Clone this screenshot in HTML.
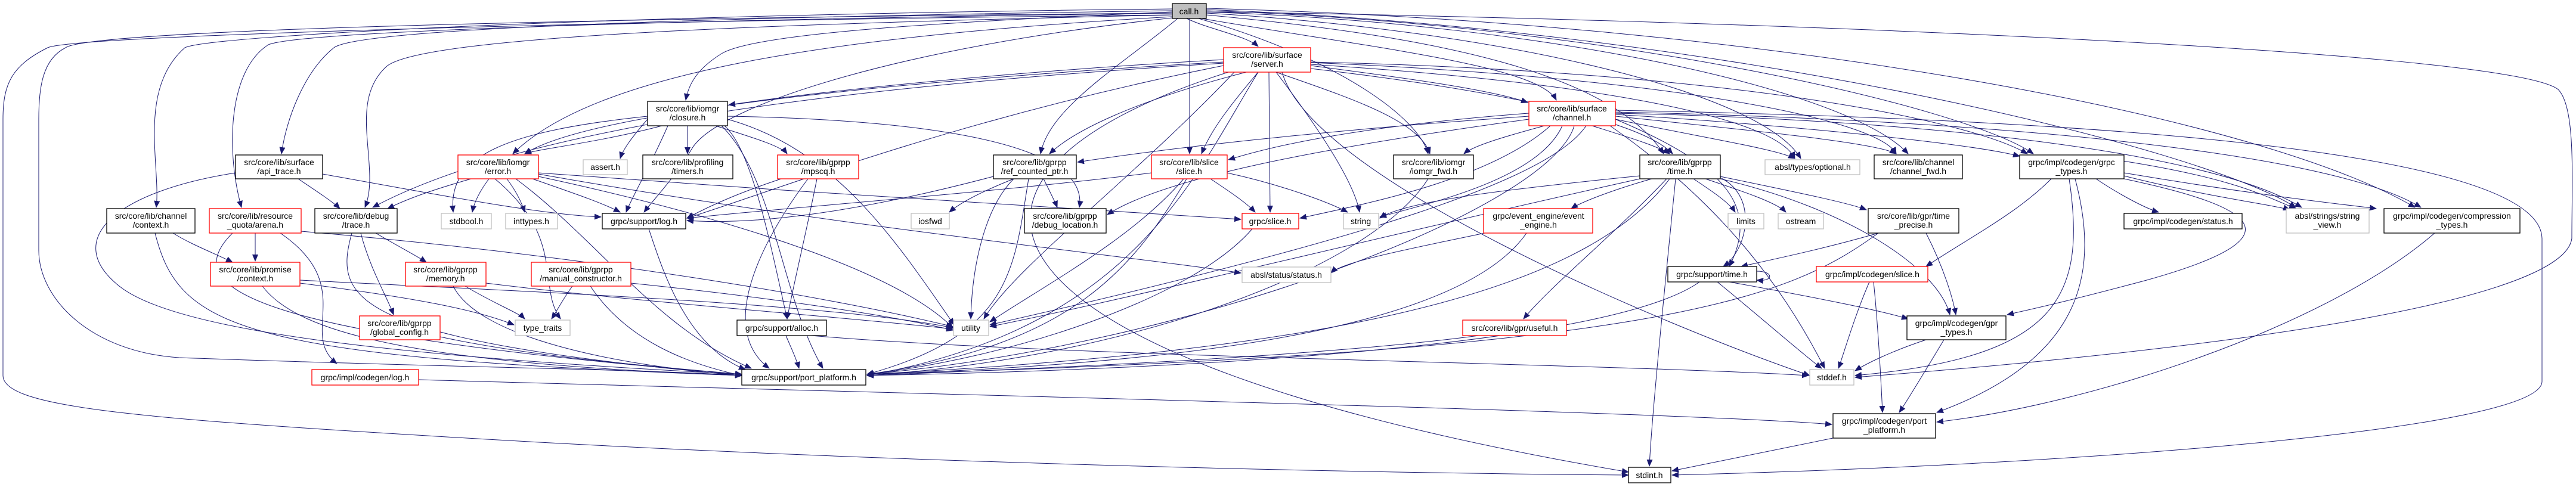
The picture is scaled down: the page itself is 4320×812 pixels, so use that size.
<!DOCTYPE html>
<html><head><meta charset="utf-8"><style>
html,body{margin:0;padding:0;background:#fff;}
svg{display:block;}
text{font-family:"Liberation Sans",sans-serif;font-size:14px;text-anchor:middle;fill:#000;}
.e path{fill:none;stroke:#191970;stroke-width:1;}
.n rect{fill:#fff;stroke-width:1.3;}
.k{stroke:#000;} .r{stroke:#ff0000;} .g{stroke:#bfbfbf;}
</style></head><body>
<svg width="4320" height="812" viewBox="0 0 4320 812" xmlns="http://www.w3.org/2000/svg">
<defs><marker id="a" markerWidth="12" markerHeight="10" refX="11" refY="5" orient="auto" markerUnits="userSpaceOnUse"><path d="M0,0 L12,5 L0,10 z" fill="#191970"/></marker></defs>
<g class="e" marker-end="url(#a)">
<path d="M1990 31 C2030 50 2090 60 2110 78"/>
<path d="M1995 31 L1995 258"/>
<path d="M1975 31 C1880 110 1760 180 1745 258"/>
<path d="M1966 20 C1500 40 1260 60 1210 90 C1170 115 1155 140 1150 168"/>
<path d="M1966 18 C1100 30 600 50 560 80 C510 120 480 200 472 258"/>
<path d="M1966 15 C1000 25 350 60 310 80 C230 150 270 280 262 348"/>
<path d="M1966 22 C1000 35 500 55 450 75 C380 120 380 260 405 348"/>
<path d="M1966 25 C1300 40 720 60 650 110 C580 170 640 280 612 348"/>
<path d="M1966 28 C1400 60 1000 120 860 258"/>
<path d="M1966 30 C1500 80 1200 180 1160 250 C1130 300 1100 330 1080 356"/>
<path d="M2010 31 C2250 100 2380 200 2395 258"/>
<path d="M2023 25 C2400 60 2700 120 2790 258"/>
<path d="M2015 31 C2300 80 2580 110 2610 168"/>
<path d="M2023 22 C2500 50 2950 150 3020 266"/>
<path d="M2023 20 C2600 40 3100 150 3200 258"/>
<path d="M2023 18 C2700 40 3300 180 3410 258"/>
<path d="M2023 16 C2900 50 3700 250 3850 348"/>
<path d="M2023 14 C3000 40 3800 200 4050 348"/>
<path d="M1966 22 C1000 30 150 50 110 80 C70 100 65 150 65 200 L65 420 C65 500 150 590 300 600 C700 615 1100 620 1244 630"/>
<path d="M1966 25 C1000 35 120 60 80 80 C20 110 5 140 5 200 L5 630 C5 680 200 700 700 730 C1500 780 2400 795 2731 797"/>
<path d="M2023 20 C2800 30 4200 80 4290 150 C4320 180 4313 300 4313 400 C4300 500 3800 580 3111 633"/>
<path d="M2198 110 C2350 130 2500 150 2562 172"/>
<path d="M2052 100 C1700 120 1400 150 1222 176"/>
<path d="M2052 104 C1600 130 1000 180 880 258"/>
<path d="M2052 106 C1500 140 900 200 625 348"/>
<path d="M2140 121 C2250 160 2380 200 2398 258"/>
<path d="M2198 115 C2500 150 2750 200 2805 258"/>
<path d="M2198 108 C2700 140 2980 200 3010 266"/>
<path d="M2198 105 C2800 130 3150 200 3180 258"/>
<path d="M2198 104 C2900 120 3300 200 3400 258"/>
<path d="M2110 121 C2060 180 2030 220 2015 258"/>
<path d="M2090 121 C1900 170 1800 220 1760 258"/>
<path d="M2128 121 L2130 356"/>
<path d="M2140 121 C2200 200 2270 300 2280 356"/>
<path d="M2070 121 C1900 300 1700 450 1650 535"/>
<path d="M2110 121 C2000 300 1900 550 1454 630"/>
<path d="M2150 121 C2200 300 2800 550 3035 630"/>
<path d="M2052 110 C1600 200 1300 320 1152 366"/>
<path d="M2060 121 C1500 300 1600 600 2731 792"/>
<path d="M2670 211 C2730 230 2780 245 2800 258"/>
<path d="M2590 211 C2520 230 2470 245 2455 258"/>
<path d="M2564 190 C2300 210 2150 240 2060 268"/>
<path d="M2564 195 C2200 220 1950 250 1807 272"/>
<path d="M2600 211 C2500 300 2300 340 2180 366"/>
<path d="M2620 211 C2580 300 2400 340 2314 364"/>
<path d="M2709 200 C2850 230 2980 250 3010 266"/>
<path d="M2709 195 C2950 220 3150 240 3180 258"/>
<path d="M2709 192 C3000 210 3300 240 3387 262"/>
<path d="M2709 190 C3200 200 3700 250 3860 348"/>
<path d="M2709 188 C3300 200 3900 250 4060 348"/>
<path d="M2709 185 C3500 200 4260 250 4263 400 L4263 640 C4263 720 3500 780 2804 797"/>
<path d="M2640 211 C2600 350 2000 580 1454 628"/>
<path d="M2660 211 C2600 300 2300 400 1660 545"/>
<path d="M2709 200 C2900 280 2950 350 2900 447"/>
<path d="M2700 211 C2900 350 3000 500 3060 618"/>
<path d="M2564 200 C2200 250 1950 300 1857 360"/>
<path d="M1153 211 L1153 258"/>
<path d="M1200 211 C1260 230 1310 245 1320 258"/>
<path d="M1110 211 C1000 240 900 250 880 258"/>
<path d="M1086 200 C1060 230 1045 250 1040 266"/>
<path d="M1086 195 C850 220 750 260 760 356"/>
<path d="M1120 211 C1090 280 1060 330 1050 356"/>
<path d="M1210 211 C1300 300 1310 500 1380 618"/>
<path d="M1215 211 C1260 250 1290 400 1320 535"/>
<path d="M1220 195 C1500 200 1830 230 1810 348"/>
<path d="M1220 200 C1400 250 1500 400 1600 545"/>
<path d="M790 300 C720 320 680 335 650 350"/>
<path d="M820 300 C805 320 795 340 792 356"/>
<path d="M850 300 C865 320 875 340 880 356"/>
<path d="M893 300 C950 320 1010 340 1040 356"/>
<path d="M865 300 C1000 400 1100 550 1260 618"/>
<path d="M903 296 C1200 360 1500 450 1598 550"/>
<path d="M903 292 C1400 380 1900 430 2081 458"/>
<path d="M903 290 C1300 320 1800 350 2081 368"/>
<path d="M830 300 C950 400 900 480 940 535"/>
<path d="M500 300 C530 320 560 340 570 350"/>
<path d="M541 292 C700 320 900 360 1008 364"/>
<path d="M395 290 C200 320 100 400 200 480 C300 560 700 600 1244 628"/>
<path d="M290 391 C320 410 360 425 390 440"/>
<path d="M260 391 C300 550 400 600 1244 630"/>
<path d="M428 391 L428 438"/>
<path d="M390 391 C300 480 400 560 1244 628"/>
<path d="M505 388 C1000 430 1400 500 1598 548"/>
<path d="M470 391 C600 480 500 560 565 610"/>
<path d="M630 391 C680 420 700 430 715 440"/>
<path d="M605 391 C620 450 650 500 660 528"/>
<path d="M590 391 C560 500 580 570 1244 630"/>
<path d="M503 475 C700 500 800 520 862 545"/>
<path d="M440 480 C500 560 700 610 1244 630"/>
<path d="M503 470 C900 490 1400 510 1598 550"/>
<path d="M780 480 C830 510 870 525 880 535"/>
<path d="M760 480 C800 560 1000 610 1244 630"/>
<path d="M815 475 C1100 510 1400 530 1598 552"/>
<path d="M960 480 C945 500 935 520 925 535"/>
<path d="M990 480 C1050 570 1150 610 1244 630"/>
<path d="M1058 475 C1300 500 1500 530 1598 554"/>
<path d="M738 565 C900 600 1100 615 1244 628"/>
<path d="M702 637 C1500 660 2800 690 3072 712"/>
<path d="M1310 300 C1250 320 1200 340 1152 366"/>
<path d="M1355 300 C1280 400 1200 550 1290 618"/>
<path d="M1370 300 C1350 400 1330 480 1320 535"/>
<path d="M1318 563 C1325 580 1335 600 1340 618"/>
<path d="M1360 563 C1800 600 2700 610 3033 630"/>
<path d="M1700 300 C1650 320 1610 340 1592 356"/>
<path d="M1750 300 C1760 320 1770 340 1773 348"/>
<path d="M1700 300 C1650 350 1630 450 1628 535"/>
<path d="M1725 300 C1700 450 1700 560 1454 628"/>
<path d="M1666 296 C1500 340 1300 380 1152 370"/>
<path d="M2030 300 C2060 320 2090 340 2105 356"/>
<path d="M1985 300 C1900 400 1750 480 1660 540"/>
<path d="M1990 300 C1900 450 1800 580 1454 628"/>
<path d="M2058 290 C2150 310 2230 340 2260 356"/>
<path d="M1931 290 C1700 320 1300 350 1152 366"/>
<path d="M2100 384 C2000 500 1700 600 1454 628"/>
<path d="M1088 384 C1110 450 1150 580 1250 620"/>
<path d="M2395 300 C2300 450 1900 600 1454 630"/>
<path d="M2840 300 C2870 320 2900 340 2910 356"/>
<path d="M2860 300 C2920 320 2980 340 2995 356"/>
<path d="M2885 296 C3000 320 3100 340 3130 352"/>
<path d="M2885 298 C2950 330 2930 420 2890 447"/>
<path d="M2750 295 C2500 320 2350 340 2314 366"/>
<path d="M2770 300 C2700 320 2650 340 2635 350"/>
<path d="M2795 300 C2700 400 2600 480 2555 535"/>
<path d="M2810 300 C2790 500 2770 700 2766 782"/>
<path d="M2885 300 C3100 350 3250 450 3270 528"/>
<path d="M2800 300 C2650 500 2200 590 1454 628"/>
<path d="M2750 300 C2300 400 1900 500 1660 548"/>
<path d="M3150 391 C3050 420 2950 440 2920 447"/>
<path d="M3230 391 C3260 450 3275 500 3280 528"/>
<path d="M3150 391 C3000 500 2800 590 1454 628"/>
<path d="M2880 473 C2950 530 3030 600 3055 618"/>
<path d="M2900 473 C3050 500 3150 520 3200 535"/>
<path d="M2850 473 C2700 580 2000 620 1454 630"/>
<path d="M2946 455 C2975 455 2975 473 2946 470"/>
<path d="M3135 473 C3110 530 3090 600 3083 618"/>
<path d="M3142 473 C3150 550 3155 650 3157 692"/>
<path d="M3230 570 C3170 590 3130 610 3111 622"/>
<path d="M3260 570 C3230 620 3200 670 3185 692"/>
<path d="M3074 735 C2950 760 2850 780 2804 790"/>
<path d="M3515 300 C3560 330 3600 350 3620 356"/>
<path d="M3562 295 C3700 330 3820 345 3840 352"/>
<path d="M3562 290 C3800 330 3950 345 3985 350"/>
<path d="M3562 300 C3800 350 3850 400 3600 470 C3450 510 3400 520 3366 528"/>
<path d="M3480 300 C3520 450 3500 600 3248 692"/>
<path d="M3470 300 C3500 500 3450 600 3111 630"/>
<path d="M3440 300 C3380 360 3300 400 3230 447"/>
<path d="M4083 391 C3900 550 3500 680 3248 708"/>
<path d="M2490 391 C2350 420 2250 440 2232 458"/>
<path d="M2560 391 C2450 550 2000 610 1454 628"/>
<path d="M2480 563 C2200 600 1700 620 1454 630"/>
<path d="M3560 270 C3750 300 3800 330 3850 350"/>
</g>
<g class="n">
<rect x="1966" y="6" width="57" height="25" class="k" style="fill:#bfbfbf"/><text x="1994" y="24">call.h</text>
<rect x="2052" y="80" width="146" height="41" class="r"/><text x="2125" y="97">src/core/lib/surface</text><text x="2125" y="112">/server.h</text>
<rect x="1086" y="170" width="134" height="41" class="k"/><text x="1153" y="187">src/core/lib/iomgr</text><text x="1153" y="202">/closure.h</text>
<rect x="2564" y="170" width="145" height="41" class="r"/><text x="2636" y="187">src/core/lib/surface</text><text x="2636" y="202">/channel.h</text>
<rect x="395" y="260" width="146" height="40" class="k"/><text x="468" y="277">src/core/lib/surface</text><text x="468" y="292">/api_trace.h</text>
<rect x="768" y="260" width="135" height="40" class="r"/><text x="835" y="277">src/core/lib/iomgr</text><text x="835" y="292">/error.h</text>
<rect x="978" y="268" width="74" height="25" class="g"/><text x="1015" y="285">assert.h</text>
<rect x="1078" y="260" width="151" height="40" class="k"/><text x="1153" y="277">src/core/lib/profiling</text><text x="1153" y="292">/timers.h</text>
<rect x="1304" y="260" width="136" height="40" class="r"/><text x="1372" y="277">src/core/lib/gprpp</text><text x="1372" y="292">/mpscq.h</text>
<rect x="1666" y="260" width="139" height="40" class="k"/><text x="1735" y="277">src/core/lib/gprpp</text><text x="1735" y="292">/ref_counted_ptr.h</text>
<rect x="1931" y="260" width="127" height="40" class="r"/><text x="1994" y="277">src/core/lib/slice</text><text x="1994" y="292">/slice.h</text>
<rect x="2337" y="260" width="134" height="40" class="k"/><text x="2404" y="277">src/core/lib/iomgr</text><text x="2404" y="292">/iomgr_fwd.h</text>
<rect x="2750" y="260" width="135" height="40" class="k"/><text x="2817" y="277">src/core/lib/gprpp</text><text x="2817" y="292">/time.h</text>
<rect x="2960" y="268" width="159" height="25" class="g"/><text x="3040" y="285">absl/types/optional.h</text>
<rect x="3143" y="260" width="148" height="40" class="k"/><text x="3217" y="277">src/core/lib/channel</text><text x="3217" y="292">/channel_fwd.h</text>
<rect x="3387" y="260" width="175" height="40" class="k"/><text x="3474" y="277">grpc/impl/codegen/grpc</text><text x="3474" y="292">_types.h</text>
<rect x="179" y="350" width="148" height="41" class="k"/><text x="253" y="367">src/core/lib/channel</text><text x="253" y="382">/context.h</text>
<rect x="351" y="350" width="154" height="41" class="r"/><text x="428" y="367">src/core/lib/resource</text><text x="428" y="382">_quota/arena.h</text>
<rect x="528" y="350" width="138" height="41" class="k"/><text x="597" y="367">src/core/lib/debug</text><text x="597" y="382">/trace.h</text>
<rect x="740" y="358" width="84" height="26" class="g"/><text x="782" y="376">stdbool.h</text>
<rect x="848" y="358" width="87" height="26" class="g"/><text x="891" y="376">inttypes.h</text>
<rect x="1010" y="358" width="140" height="26" class="k"/><text x="1080" y="376">grpc/support/log.h</text>
<rect x="1528" y="358" width="64" height="26" class="g"/><text x="1560" y="376">iosfwd</text>
<rect x="1718" y="350" width="137" height="41" class="k"/><text x="1786" y="367">src/core/lib/gprpp</text><text x="1786" y="382">/debug_location.h</text>
<rect x="2083" y="358" width="95" height="26" class="r"/><text x="2130" y="376">grpc/slice.h</text>
<rect x="2253" y="358" width="59" height="26" class="g"/><text x="2282" y="376">string</text>
<rect x="2488" y="350" width="183" height="41" class="r"/><text x="2580" y="367">grpc/event_engine/event</text><text x="2580" y="382">_engine.h</text>
<rect x="2898" y="358" width="60" height="26" class="g"/><text x="2928" y="376">limits</text>
<rect x="2982" y="358" width="76" height="26" class="g"/><text x="3020" y="376">ostream</text>
<rect x="3133" y="350" width="152" height="41" class="k"/><text x="3209" y="367">src/core/lib/gpr/time</text><text x="3209" y="382">_precise.h</text>
<rect x="3562" y="358" width="198" height="26" class="k"/><text x="3661" y="376">grpc/impl/codegen/status.h</text>
<rect x="3834" y="350" width="139" height="41" class="g"/><text x="3903" y="367">absl/strings/string</text><text x="3903" y="382">_view.h</text>
<rect x="3998" y="350" width="228" height="41" class="k"/><text x="4112" y="367">grpc/impl/codegen/compression</text><text x="4112" y="382">_types.h</text>
<rect x="353" y="440" width="150" height="40" class="r"/><text x="428" y="457">src/core/lib/promise</text><text x="428" y="472">/context.h</text>
<rect x="680" y="440" width="135" height="40" class="r"/><text x="747" y="457">src/core/lib/gprpp</text><text x="747" y="472">/memory.h</text>
<rect x="891" y="440" width="167" height="40" class="r"/><text x="974" y="457">src/core/lib/gprpp</text><text x="974" y="472">/manual_constructor.h</text>
<rect x="2083" y="448" width="149" height="26" class="g"/><text x="2157" y="466">absl/status/status.h</text>
<rect x="2797" y="447" width="149" height="26" class="k"/><text x="2871" y="465">grpc/support/time.h</text>
<rect x="3046" y="447" width="187" height="26" class="r"/><text x="3140" y="465">grpc/impl/codegen/slice.h</text>
<rect x="603" y="530" width="135" height="40" class="r"/><text x="670" y="547">src/core/lib/gprpp</text><text x="670" y="562">/global_config.h</text>
<rect x="864" y="537" width="92" height="26" class="g"/><text x="910" y="555">type_traits</text>
<rect x="1236" y="537" width="150" height="26" class="k"/><text x="1311" y="555">grpc/support/alloc.h</text>
<rect x="1599" y="537" width="59" height="26" class="g"/><text x="1628" y="555">utility</text>
<rect x="2453" y="537" width="174" height="26" class="r"/><text x="2540" y="555">src/core/lib/gpr/useful.h</text>
<rect x="3198" y="530" width="166" height="40" class="k"/><text x="3281" y="547">grpc/impl/codegen/gpr</text><text x="3281" y="562">_types.h</text>
<rect x="523" y="620" width="179" height="26" class="r"/><text x="612" y="638">grpc/impl/codegen/log.h</text>
<rect x="1244" y="620" width="208" height="26" class="k"/><text x="1348" y="638">grpc/support/port_platform.h</text>
<rect x="3035" y="620" width="74" height="26" class="g"/><text x="3072" y="638">stddef.h</text>
<rect x="3074" y="694" width="172" height="41" class="k"/><text x="3160" y="711">grpc/impl/codegen/port</text><text x="3160" y="726">_platform.h</text>
<rect x="2731" y="784" width="71" height="26" class="k"/><text x="2766" y="802">stdint.h</text>
</g>
</svg>
</body></html>
